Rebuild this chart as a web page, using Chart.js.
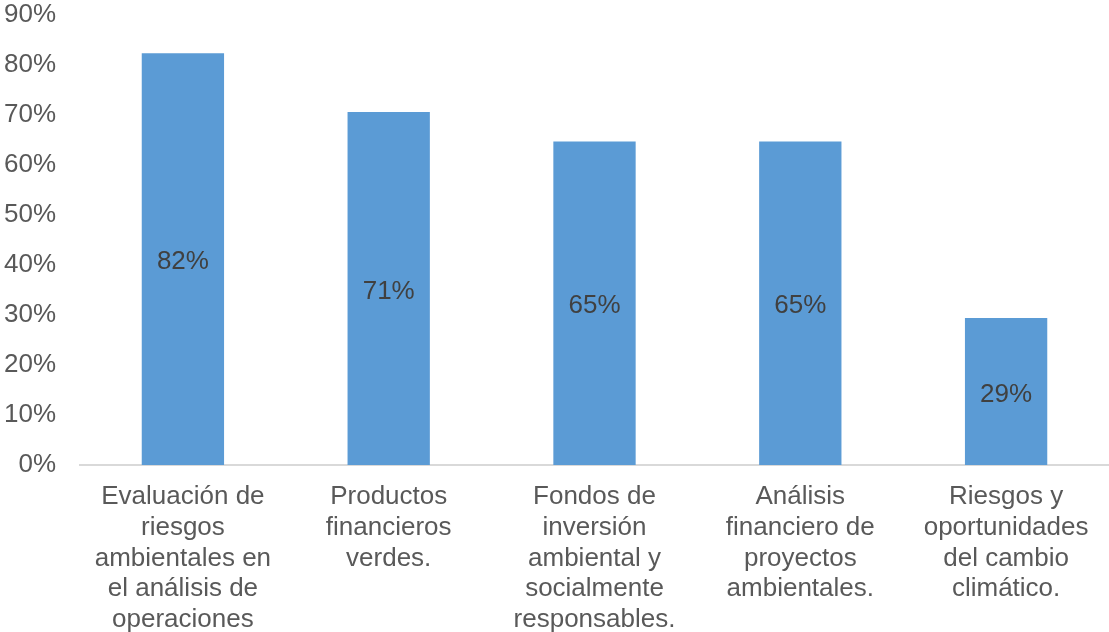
<!DOCTYPE html>
<html>
<head>
<meta charset="utf-8">
<script src="https://cdn.jsdelivr.net/npm/chart.js@4/dist/chart.umd.min.js"></script>
<style>
  html, body { margin: 0; padding: 0; background: #fff; }
  #wrap { width: 1109px; height: 632px; position: relative; }
</style>
</head>
<body>
<div id="wrap"><canvas id="chart"></canvas></div>
<script>
// survey answers (share of respondents, %)
const categories = [
  ['Evaluación de', 'riesgos', 'ambientales en', 'el análisis de', 'operaciones'],
  ['Productos', 'financieros', 'verdes.'],
  ['Fondos de', 'inversión', 'ambiental y', 'socialmente', 'responsables.'],
  ['Análisis', 'financiero de', 'proyectos', 'ambientales.'],
  ['Riesgos y', 'oportunidades', 'del cambio', 'climático.']
];
const values = [82.35, 70.59, 64.71, 64.71, 29.41];
const yMax = 90;
const yStep = 10;

const FONT = "'Liberation Sans', Arial, sans-serif";

// value labels centred inside each bar
const barLabels = {
  id: 'barLabels',
  afterDatasetsDraw(chart) {
    const ctx = chart.ctx;
    const meta = chart.getDatasetMeta(0);
    ctx.save();
    ctx.font = '26px ' + FONT;
    ctx.fillStyle = '#404040';
    ctx.textAlign = 'center';
    ctx.textBaseline = 'middle';
    meta.data.forEach((bar, i) => {
      const v = chart.data.datasets[0].data[i];
      const y = (bar.y + bar.base) / 2;
      ctx.fillText(Math.round(v) + '%', bar.x, y + 3);
    });
    ctx.restore();
  }
};

new Chart(document.getElementById('chart'), {
  type: 'bar',
  data: {
    labels: categories,
    datasets: [{
      data: values,
      backgroundColor: '#5B9BD5',
      barPercentage: 0.4,
      categoryPercentage: 1.0
    }]
  },
  options: {
    responsive: true,
    maintainAspectRatio: false,
    animation: false,
    layout: { padding: { top: 15, right: 0, left: 0, bottom: 0 } },
    plugins: {
      legend: { display: false },
      tooltip: { enabled: false }
    },
    scales: {
      x: {
        grid: { display: false, drawTicks: false },
        border: { display: true, color: '#D9D9D9', width: 2 },
        ticks: {
          color: '#595959',
          font: { family: FONT, size: 26, lineHeight: 1.19 },
          padding: 16,
          maxRotation: 0,
          autoSkip: false
        },
        afterFit(scale) {
          scale.height = 167;
          scale.paddingLeft = 0;
          scale.paddingRight = 0;
        }
      },
      y: {
        min: 0,
        max: yMax,
        grid: { display: false, drawTicks: false },
        border: { display: false },
        ticks: {
          stepSize: yStep,
          color: '#595959',
          font: { family: FONT, size: 26 },
          padding: 24,
          callback: v => v + '%'
        },
        afterFit(scale) {
          scale.width = 80;
          scale.paddingTop = 0;
          scale.paddingBottom = 0;
        }
      }
    }
  },
  plugins: [barLabels]
});
</script>
</body>
</html>
